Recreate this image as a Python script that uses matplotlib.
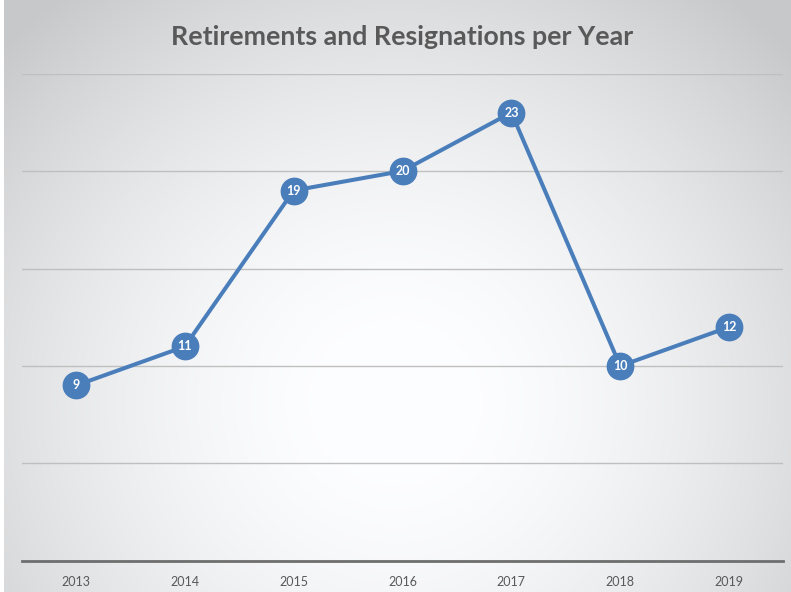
import numpy as np
import matplotlib.pyplot as plt

years = ['2013', '2014', '2015', '2016', '2017', '2018', '2019']
counts = [9, 11, 19, 20, 23, 10, 12]

line_color = '#4a7ebb'
text_grey = '#595959'

fig = plt.figure(figsize=(7.91, 5.92), dpi=100)

# radial grey-to-white backdrop behind everything
bg = fig.add_axes([0, 0, 1, 1], zorder=-10)
gx, gy = np.meshgrid(np.linspace(0, 1, 400), np.linspace(0, 1, 300))
r = np.sqrt(((gx - 0.5) / 0.68) ** 2 + ((gy - 0.68) / 0.88) ** 2)
r = np.clip((r - 0.10) / 0.90, 0, 1)
shade = 1 - 0.21 * r ** 1.6
img = np.dstack([shade * 0.992, shade * 0.995, shade * 1.0])
img = np.clip(img, 0, 1)
bg.imshow(img, extent=[0, 1, 0, 1], origin='upper', aspect='auto')
bg.axvspan(0, 4 / 791, color='white', lw=0)
bg.set_xlim(0, 1)
bg.set_ylim(0, 1)
bg.axis('off')

ax = fig.add_axes([0.0272, 0.0524, 0.9633, 0.8234])
ax.patch.set_alpha(0)
x = np.arange(len(years))
ax.plot(x, counts, color=line_color, lw=2.9, marker='o', ms=19,
        mec=line_color, mfc=line_color, zorder=3, solid_capstyle='round')
for xi, v in zip(x, counts):
    ax.text(xi, v, str(v), color='white', fontsize=9, fontweight='bold',
            ha='center', va='center', family='Lato', zorder=4)

ax.set_xlim(-0.5, len(years) - 0.5)
ax.set_ylim(0, 25)
ax.set_yticks([0, 5, 10, 15, 20, 25])
ax.yaxis.grid(True, color='#bfbfbf', lw=1)
ax.set_axisbelow(True)
ax.tick_params(axis='y', left=False, labelleft=False)
ax.set_xticks(x)
ax.set_xticklabels(years, color=text_grey, fontsize=9, family='Lato')
ax.tick_params(axis='x', length=0, pad=11)
for s in ['top', 'right', 'left']:
    ax.spines[s].set_visible(False)
ax.spines['bottom'].set_color('#6e6e6e')
ax.spines['bottom'].set_linewidth(2)

fig.text(0.508, 0.937, 'Retirements and Resignations per Year', ha='center',
         va='center', fontsize=19.3, fontweight='bold', color=text_grey, family='Lato')

fig.savefig('out.png', dpi=100)
